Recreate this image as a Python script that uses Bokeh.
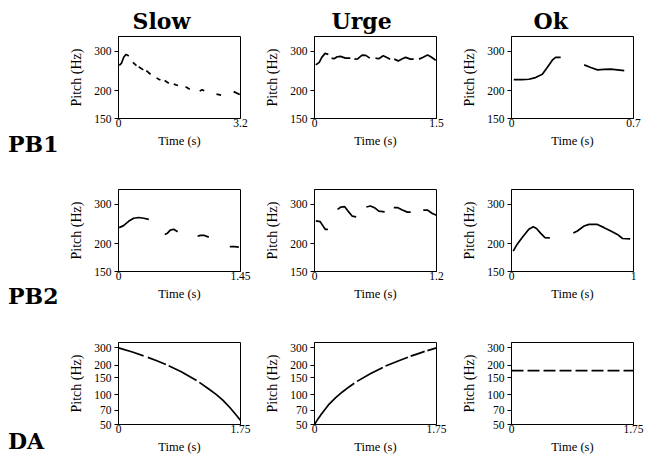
import math
from bokeh.plotting import figure
from bokeh.layouts import column, row
from bokeh.models import Range1d, FixedTicker, Div
from bokeh.embed import file_html
from bokeh.resources import INLINE

# ---------------- data ----------------
col_titles = ["Slow", "Urge", "Ok"]
row_titles = ["PB1", "PB2", "DA"]

x_max = [[3.2, 1.5, 0.7], [1.45, 1.2, 1.0], [1.75, 1.75, 1.75]]
x_tick_labels = [[["0", "3.2"], ["0", "1.5"], ["0", "0.7"]],
                 [["0", "1.45"], ["0", "1.2"], ["0", "1"]],
                 [["0", "1.75"], ["0", "1.75"], ["0", "1.75"]]]
y_ticks = [[150, 200, 300], [150, 200, 300], [50, 70, 100, 150, 200, 300]]
y_tick_labels = [["150", "200", "300"], ["150", "200", "300"],
                 ["50", "70", "100", "150", "200", "300"]]
y_limits = [(150, 350), (150, 350), (50, 340)]

# PB1 - Slow
pb1_slow_time = [[0.02, 0.08, 0.14, 0.20, 0.27], [0.38, 0.47], [0.53, 0.65], [0.73, 0.84],
                 [1.00, 1.10], [1.21, 1.32], [1.45, 1.56], [1.76, 1.87],
                 [2.13, 2.19, 2.25], [2.57, 2.69], [3.02, 3.18]]
pb1_slow_pitch = [[260, 266, 283, 291, 286], [268, 259], [256, 248], [246, 237],
                  [228, 223], [222, 216], [214, 211], [208, 203],
                  [199, 202, 200], [193, 191], [198, 192]]
# PB1 - Urge
pb1_urge_time = [[0.016, 0.058, 0.09, 0.13, 0.17],
                 [0.21, 0.24, 0.28, 0.32, 0.38, 0.44],
                 [0.49, 0.53, 0.585, 0.63, 0.68],
                 [0.75, 0.79, 0.845, 0.89, 0.93],
                 [0.98, 1.03, 1.08, 1.12, 1.18, 1.22],
                 [1.285, 1.33, 1.39, 1.43, 1.49]]
pb1_urge_pitch = [[261, 268, 282, 294, 291],
                  [280, 278, 284, 285, 280, 280],
                  [277, 278, 289, 288, 280],
                  [280, 278, 287, 282, 277],
                  [277, 272, 278, 282, 277, 277],
                  [277, 282, 289, 284, 274]]
# PB1 - Ok
pb1_ok_time = [[0.013, 0.06, 0.10, 0.138, 0.177, 0.205, 0.234, 0.253, 0.282],
               [0.417, 0.455, 0.493, 0.532, 0.57, 0.608, 0.647]]
pb1_ok_pitch = [[224, 224, 225, 229, 237, 254, 274, 282, 282],
                [261, 254, 248, 249, 250, 248, 246]]
# PB2 - Slow
pb2_slow_time = [[0.008, 0.06, 0.12, 0.18, 0.24, 0.30, 0.36],
                 [0.55, 0.576, 0.616, 0.656, 0.703],
                 [0.94, 0.973, 1.013, 1.073],
                 [1.323, 1.379, 1.43]]
pb2_slow_pitch = [[236, 241, 252, 260, 262, 260, 257],
                  [220, 222, 230, 232, 226],
                  [216, 218, 218, 214],
                  [194, 194, 193]]
# PB2 - Urge
pb2_urge_time = [[0.013, 0.056, 0.082, 0.105, 0.132],
                 [0.227, 0.26, 0.297, 0.33, 0.37, 0.41],
                 [0.51, 0.55, 0.59, 0.633, 0.69],
                 [0.78, 0.82, 0.864, 0.913, 0.946],
                 [1.07, 1.11, 1.16, 1.2]]
pb2_urge_pitch = [[253, 251, 241, 232, 232],
                  [285, 292, 293, 280, 266, 264],
                  [292, 295, 290, 280, 278],
                  [290, 290, 283, 277, 277],
                  [283, 283, 273, 268]]
# PB2 - Ok
pb2_ok_time = [[0.014, 0.047, 0.088, 0.142, 0.178, 0.205, 0.238, 0.274, 0.315],
               [0.507, 0.54, 0.595, 0.636, 0.704, 0.759, 0.814, 0.868, 0.91, 0.973]]
pb2_ok_pitch = [[185, 199, 213, 232, 238, 234, 223, 213, 212],
                [223, 228, 240, 244, 244, 236, 228, 220, 211, 210]]
# DA - Slow
da_slow_time = [[0.0, 0.2, 0.36], [0.42, 0.55, 0.68], [0.72, 0.9, 1.12],
                [1.16, 1.3, 1.4, 1.5, 1.6, 1.7, 1.75]]
da_slow_pitch = [[300, 272, 249], [240, 222, 203], [197, 172, 140],
                 [134, 114, 101, 88, 74, 61, 55]]
# DA - Urge
da_urge_time = [[0.0, 0.05, 0.1, 0.2, 0.3, 0.4, 0.5, 0.57], [0.61, 0.8, 0.98],
                [1.02, 1.2, 1.34], [1.38, 1.5, 1.58], [1.62, 1.75]]
da_urge_pitch = [[50, 57, 64, 79, 93, 107, 121, 131], [137, 164, 190],
                 [196, 221, 241], [247, 264, 276], [281, 300]]
# DA - Ok
da_ok_time = [[0.0, 1.75]]
da_ok_pitch = [[176, 176]]

panel_data = [[(pb1_slow_time, pb1_slow_pitch), (pb1_urge_time, pb1_urge_pitch), (pb1_ok_time, pb1_ok_pitch)],
              [(pb2_slow_time, pb2_slow_pitch), (pb2_urge_time, pb2_urge_pitch), (pb2_ok_time, pb2_ok_pitch)],
              [(da_slow_time, da_slow_pitch), (da_urge_time, da_urge_pitch), (da_ok_time, da_ok_pitch)]]
dashed_panels = {(2, 2)}

# ---------------- layout ----------------
FW, FH = 122, 82
LABEL_W = 60
LABEL_INDENT = 8
LEFT_B = [58, 52, 52]
RIGHT_B = [22, 23, 11]
TOP_B = [36, 8, 8]
BOT_B = [63, 63, 31]
ROW_LABEL_TOP = [136, 107, 99]   # top of the label line box inside each row
TITLE_OFFSET = [14, 17, 22]

SERIF = "Liberation Serif"
BOLD_SERIF = "DejaVu Serif"


def make_panel(r, c):
    ylo, yhi = y_limits[r]
    xm = x_max[r][c]
    p = figure(frame_width=FW, frame_height=FH,
               x_range=Range1d(0, xm), y_range=Range1d(ylo, yhi),
               y_axis_type="log", output_backend="svg", toolbar_location=None,
               min_border_left=LEFT_B[c], min_border_right=RIGHT_B[c],
               min_border_top=TOP_B[r], min_border_bottom=BOT_B[r])
    p.grid.visible = False
    p.outline_line_color = "black"
    p.outline_line_width = 1
    p.background_fill_color = "white"
    p.border_fill_color = "white"

    xa = p.xaxis[0]
    xa.ticker = FixedTicker(ticks=[0, xm])
    xa.major_label_overrides = {0: x_tick_labels[r][c][0], xm: x_tick_labels[r][c][1]}
    xa.axis_label = "Time (s)"
    xa.major_tick_out = 0
    xa.major_tick_in = 0
    xa.minor_tick_line_color = None
    xa.major_label_standoff = 0
    xa.axis_label_standoff = 4
    xa.axis_label_text_font_size = "12.5px"

    ya = p.yaxis[0]
    ya.ticker = FixedTicker(ticks=y_ticks[r])
    ya.major_label_overrides = {t: s for t, s in zip(y_ticks[r], y_tick_labels[r])}
    ya.axis_label = "Pitch (Hz)"
    ya.major_tick_out = 4
    ya.major_tick_in = 0
    ya.minor_tick_line_color = None
    ya.major_label_standoff = 3
    ya.axis_label_standoff = 7
    ya.axis_label_text_font_size = "14px"

    for ax in (xa, ya):
        ax.axis_line_color = "black"
        ax.major_tick_line_color = "black"
        ax.major_label_text_font = SERIF
        ax.major_label_text_font_size = "11.5px"
        ax.major_label_text_color = "black"
        ax.axis_label_text_font = SERIF
        ax.axis_label_text_font_style = "normal"
        ax.axis_label_text_color = "black"

    if r == 0:
        p.title.text = col_titles[c]
        p.title.align = "left"
        p.title.offset = TITLE_OFFSET[c]
        p.title.standoff = 6
        p.title.text_font = BOLD_SERIF
        p.title.text_font_style = "bold"
        p.title.text_font_size = "22px"
        p.title.text_color = "black"

    ts, fs = panel_data[r][c]
    if (r, c) in dashed_panels:
        p.multi_line(xs=ts, ys=fs, line_color="black", line_width=1.7, line_dash="12 4")
    else:
        p.multi_line(xs=ts, ys=fs, line_color="black", line_width=1.7)
    return p


rows = []
for r in range(3):
    h = TOP_B[r] + FH + BOT_B[r]
    html = ('<div style="padding-top:%dpx;padding-left:%dpx;font-family:\'DejaVu Serif\';'
            'font-weight:bold;font-size:22px;line-height:16px;color:black;white-space:nowrap;">%s</div>'
            % (ROW_LABEL_TOP[r], LABEL_INDENT, row_titles[r]))
    lab = Div(text=html, width=LABEL_W, height=h, margin=0)
    rows.append(row(lab, *[make_panel(r, c) for c in range(3)]))

layout = column(*rows)
open("out.html", "w").write(file_html(layout, INLINE))
